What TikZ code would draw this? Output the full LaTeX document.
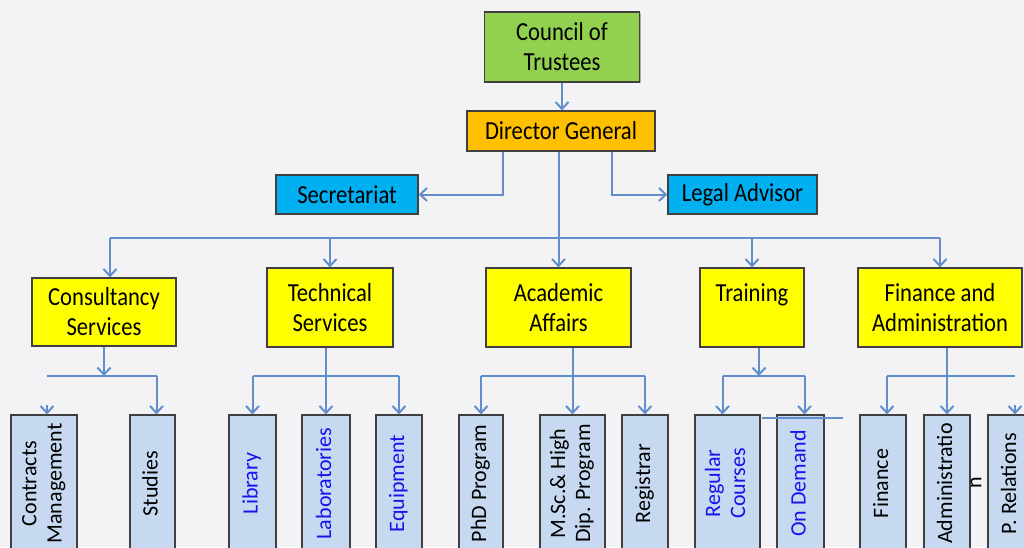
\documentclass[tikz,border=0pt]{standalone}
\usepackage{fontspec}
\setmainfont{Carlito}
\newfontfamily\boxfont[FakeStretch=0.87]{Carlito}
\usetikzlibrary{arrows.meta,shadows}
\definecolor{bgpaper}{RGB}{243,243,246}
\definecolor{trustgreen}{RGB}{146,208,80}
\definecolor{dgorange}{RGB}{255,192,0}
\definecolor{staffcyan}{RGB}{0,176,240}
\definecolor{unityellow}{RGB}{255,255,0}
\definecolor{leafblue}{RGB}{198,217,241}
\definecolor{linkblue}{RGB}{98,143,204}
\definecolor{leafink}{RGB}{20,20,235}
\newcommand{\vtext}[1]{\rotatebox{90}{\begin{tabular}{@{}c@{}}#1\end{tabular}}}

\begin{document}
\begin{tikzpicture}[
  x=1pt,y=-1pt,
  box/.style={rectangle,draw=black!75,line width=1.2pt,align=center,inner sep=0pt,
              font=\boxfont\fontsize{26}{30}\selectfont,
              drop shadow={shadow xshift=1.2pt,shadow yshift=-1.2pt,opacity=0.6}},
  unit/.style={box,fill=unityellow,minimum height=79pt},
  staff/.style={box,fill=staffcyan,minimum height=39pt},
  leaf/.style={box,fill=leafblue,minimum height=137pt,font=\fontsize{22}{25}\selectfont},
  wire/.style={draw=linkblue,line width=2pt},
  link/.style={wire,-{Straight Barb[length=7pt,width=13pt]}}
]
\fill[bgpaper] (0,0) rectangle (1024,547);
\useasboundingbox (0,0) rectangle (1024,547);
\coordinate (mainbus) at (0,238);
\coordinate (subbus) at (0,376);

\node[box,fill=trustgreen,minimum width=155pt,minimum height=70pt] (council) at (562,47) {Council of\\Trustees};
\node[box,fill=dgorange,minimum width=188pt,minimum height=40pt] (dg) at (561,131) {Director General};
\node[staff,minimum width=142pt] (sec) at (347,194.5) {Secretariat};
\node[staff,minimum width=149pt] (legal) at (742.5,194.5) {Legal Advisor};

\node[unit,minimum width=144pt,minimum height=68pt] (cons) at (104,312) {Consultancy\\Services};
\node[unit,minimum width=126pt] (tech) at (330,307.5) {Technical\\Services};
\node[unit,minimum width=145pt] (acad) at (558.5,307.5) {Academic\\Affairs};
\node[unit,minimum width=104pt] (train) at (752,307.5) {Training\\~};
\node[unit,minimum width=164pt] (fin) at (940,307.5) {Finance and\\Administration};

\node[leaf,minimum width=66pt] (cm) at (44,483.5) {\vtext{Contracts\\Management}};
\node[leaf,minimum width=45pt] (stud) at (152.5,483.5) {\vtext{Studies}};
\node[leaf,minimum width=47pt,text=leafink] (lib) at (252.5,483.5) {\vtext{Library}};
\node[leaf,minimum width=48pt,text=leafink] (labs) at (326,483.5) {\vtext{Laboratories}};
\node[leaf,minimum width=46pt,text=leafink] (equip) at (399,483.5) {\vtext{Equipment}};
\node[leaf,minimum width=44pt] (phd) at (481,483.5) {\vtext{PhD Program}};
\node[leaf,minimum width=65pt] (msc) at (572.5,483.5) {\vtext{M.Sc.\& High\\Dip. Program}};
\node[leaf,minimum width=46pt] (reg) at (645,483.5) {\vtext{Registrar}};
\node[leaf,minimum width=65pt,text=leafink] (regc) at (727.5,483.5) {\vtext{Regular\\Courses}};
\node[leaf,minimum width=47pt,text=leafink] (ond) at (800.5,483.5) {\vtext{On Demand}};
\node[leaf,minimum width=46pt] (finc) at (883,483.5) {\vtext{Finance}};
\node[leaf,minimum width=46pt] (adm) at (947,483.5) {\vtext{Administratio}};
\node[leaf,minimum width=46pt] (prel) at (1011,483.5) {\vtext{P. Relations}};
\node[font=\fontsize{22}{25}\selectfont,inner sep=0pt] (admtail) at (976,483) {\rotatebox{90}{n}};

\draw[link] (council.south) -- (council.south |- dg.north);
\draw[link] ([xshift=-58pt]dg.south) |- (sec.east);
\draw[link] ([xshift=51pt]dg.south) |- (legal.west);
\draw[link] (dg.south -| acad.north) -- (acad.north);
\draw[wire] ([xshift=6pt]cons.north |- mainbus) -- (fin.north |- mainbus);
\draw[link] ([xshift=6pt]cons.north |- mainbus) -- ([xshift=6pt]cons.north);
\foreach \u in {tech,train,fin}
  \draw[link] (\u.north |- mainbus) -- (\u.north);

\draw[link] (cons.south) -- (cons.south |- subbus);
\draw[wire] ([xshift=3pt]cm.north |- subbus) -- ([xshift=4pt]stud.north |- subbus);
\draw[link] ([xshift=4pt]stud.north |- subbus) -- ([xshift=4pt]stud.north);
\draw[link] ([xshift=3pt,yshift=9pt]cm.north) -- ([xshift=3pt]cm.north);

\draw[link] (tech.south -| labs.north) -- (labs.north);
\draw[wire] (lib.north |- subbus) -- (equip.north |- subbus);
\foreach \u in {lib,equip}
  \draw[link] (\u.north |- subbus) -- (\u.north);

\draw[link] (acad.south -| msc.north) -- (msc.north);
\draw[wire] (phd.north |- subbus) -- (reg.north |- subbus);
\foreach \u in {phd,reg}
  \draw[link] (\u.north |- subbus) -- (\u.north);

\draw[link] ([xshift=7pt]train.south) -- ([xshift=7pt]train.south |- subbus);
\draw[wire] ([xshift=-5pt]regc.north |- subbus) -- ([xshift=4pt]ond.north |- subbus);
\draw[link] ([xshift=-5pt]regc.north |- subbus) -- ([xshift=-5pt]regc.north);
\draw[link] ([xshift=4pt]ond.north |- subbus) -- ([xshift=4pt]ond.north);
\draw[wire,line width=1.2pt] (762,418) -- (843,418);

\draw[link] (fin.south -| adm.north) -- (adm.north);
\draw[wire] ([xshift=4pt]finc.north |- subbus) -- ([xshift=4pt]prel.north |- subbus);
\draw[link] ([xshift=4pt]finc.north |- subbus) -- ([xshift=4pt]finc.north);
\draw[link] ([xshift=4pt,yshift=9pt]prel.north) -- ([xshift=4pt]prel.north);
\end{tikzpicture}
\end{document}
